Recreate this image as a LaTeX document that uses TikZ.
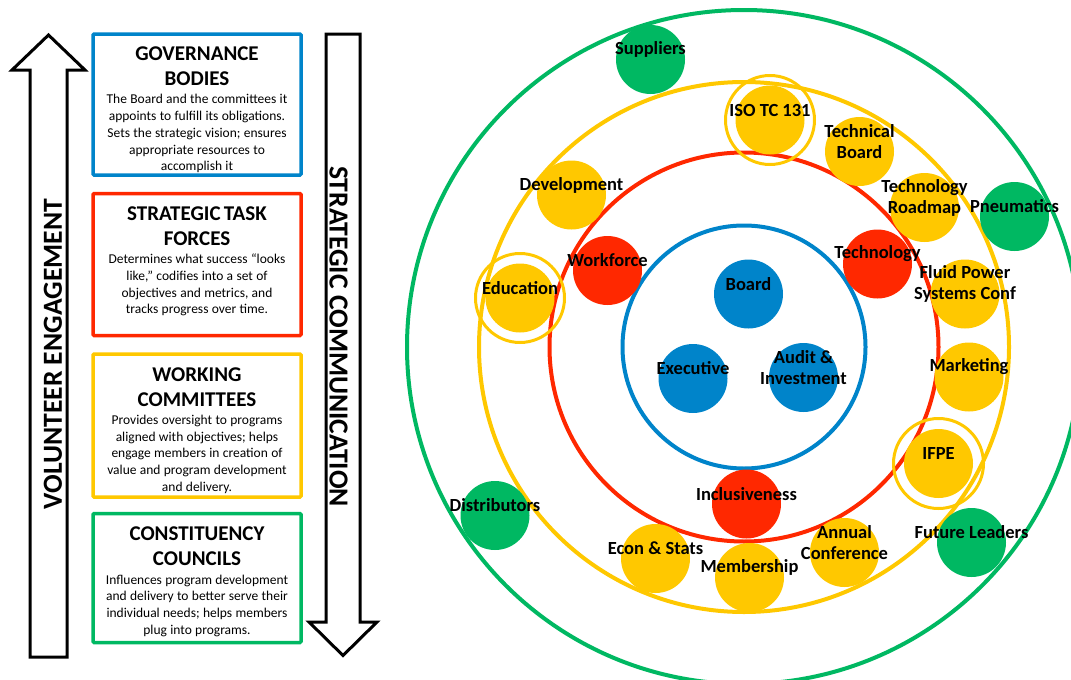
\documentclass[tikz,border=0pt]{standalone}
\usepackage{fontspec}
\setmainfont{Carlito}
\usetikzlibrary{positioning}
\definecolor{blu}{RGB}{0,132,202}
\definecolor{rd}{RGB}{255,40,0}
\definecolor{yel}{RGB}{255,200,0}
\definecolor{grn}{RGB}{0,184,98}
\newcommand\ttlfont{\fontsize{21}{25}\selectfont\bfseries}
\newcommand\bdyfont{\fontsize{13.5}{16.7}\selectfont}
\newcommand\lblfont{\fontsize{18.5}{21}\selectfont\bfseries}
\newcommand\arrfont{\fontsize{27.6}{30}\selectfont\bfseries}
\tikzset{
	bub/.style n args={3}{circle,inner sep=0pt,minimum size=69pt,fill=#1,name=#2,label={[lbl,name=#2-t]center:{#3}}},
	lbl/.style={font=\lblfont,align=center,yshift=10pt},
	ring/.style={draw=#1,line width=4pt},
	halo/.style={draw=yel,line width=3pt},
	box/.style={draw=#1,line width=3.5pt,minimum width=208pt,inner sep=0pt,rounded corners=1pt},
	txt/.style={text width=206pt,inner sep=0pt,align=center,anchor=north},
	arrw/.style={draw=black,line width=3pt,fill=white}
}

\begin{document}
\begin{tikzpicture}[x=1pt,y=-1pt]
	\clip (0,0) rectangle (1071,680);

	% left side
	\draw[arrw] (48.5,35) -- (85,70) -- (67,70) -- (67,657) -- (30,657) -- (30,70) -- (12,70) -- cycle;
	\draw[arrw] (326,34) -- (360,34) -- (360,622) -- (377,622) -- (343,655.5) -- (309,622) -- (326,622) -- cycle;
	\node[rotate=90,font=\arrfont] (vol) at (53,354) {VOLUNTEER ENGAGEMENT};
	\node[rotate=-90,font=\arrfont] (com) at (338.5,336.5) {STRATEGIC COMMUNICATION};

	\node[box=blu,minimum height=141pt] (gov) at (197,104.5) {};
	\node[box=rd,minimum height=142pt,below=15pt of gov] (stf) {};
	\node[box=yel,minimum height=143pt,below=15pt of stf] (wc) {};
	\node[box=grn,minimum height=129pt,below=13pt of wc] (cc) {};

	\node[txt] (gov-t) at ([yshift=-14.4pt]gov.north) {{\ttlfont GOVERNANCE\\BODIES\par}\vspace{1.6pt}{\bdyfont The Board and the committees it\\appoints to fulfill its obligations.\\Sets the strategic vision; ensures\\appropriate resources to\\accomplish it\par}};
	\node[txt] (stf-t) at ([yshift=-14.6pt]stf.north) {{\ttlfont STRATEGIC TASK\\FORCES\par}\vspace{1.6pt}{\bdyfont Determines what success “looks\\like,” codifies into a set of\\objectives and metrics, and\\tracks progress over time.\par}};
	\node[txt] (wc-t) at ([yshift=-15pt]wc.north) {{\ttlfont WORKING\\COMMITTEES\par}\vspace{1.6pt}{\bdyfont Provides oversight to programs\\aligned with objectives; helps\\engage members in creation of\\value and program development\\and delivery.\par}};
	\node[txt] (cc-t) at ([yshift=-15pt]cc.north) {{\ttlfont CONSTITUENCY\\COUNCILS\par}\vspace{1.6pt}{\bdyfont Influences program development\\and delivery to better serve their\\individual needs; helps members\\plug into programs.\par}};

	% rings
	\coordinate (ctr) at (744,347);
	\draw[ring=grn] (ctr) circle (337);
	\draw[ring=yel] (ctr) circle (265);
	\draw[ring=rd] (ctr) circle (194.5);
	\draw[ring=blu] (ctr) circle (121.5);

	% bubbles
	\node[bub={grn}{sup}{Suppliers}] at (650.5,59.5) {};
	\node[bub={yel}{dev}{Development}] at (571.5,195) {};
	\node[bub={rd}{wf}{Workforce}] at (607.5,270.5) {};
	\node[bub={yel}{edu}{Education}] at (520,298) {};
	\node[bub={yel}{iso}{ISO TC 131}] at (770,120) {};
	\node[bub={yel}{tb}{Technical\\Board}] at (859.5,151.5) {};
	\node[bub={yel}{trm}{Technology\\Roadmap}] at (924.5,207.5) {};
	\node[bub={grn}{pn}{Pneumatics}] at (1014.5,216.5) {};
	\node[bub={rd}{tec}{Technology}] at (877.5,264) {};
	\node[bub={yel}{fps}{Fluid Power\\Systems Conf}] at (965,294) {};
	\node[bub={yel}{mkt}{Marketing}] at (969,377) {};
	\node[bub={yel}{ifpe}{IFPE}] at (938.5,463.5) {};
	\node[bub={grn}{fl}{Future Leaders}] at (971.5,542.5) {};
	\node[bub={yel}{ac}{Annual\\Conference}] at (844.5,552.5) {};
	\node[bub={rd}{inc}{Inclusiveness}] at (746.5,504) {};
	\node[bub={yel}{es}{Econ \& Stats}] at (655.5,558.5) {};
	\node[bub={yel}{mem}{Membership}] at (749.5,577.5) {};
	\node[bub={grn}{dis}{Distributors}] at (495,515.5) {};
	\node[bub={blu}{brd}{Board}] at (748.5,294) {};
	\node[bub={blu}{exe}{Executive}] at (693,378.5) {};
	\node[bub={blu}{aud}{Audit \&\\Investment}] at (803.5,377.5) {};

	\draw[halo] (edu) circle (44.5);
	\draw[halo] (iso) circle (44.5);
	\draw[halo] (ifpe) circle (45);
\end{tikzpicture}
\end{document}
